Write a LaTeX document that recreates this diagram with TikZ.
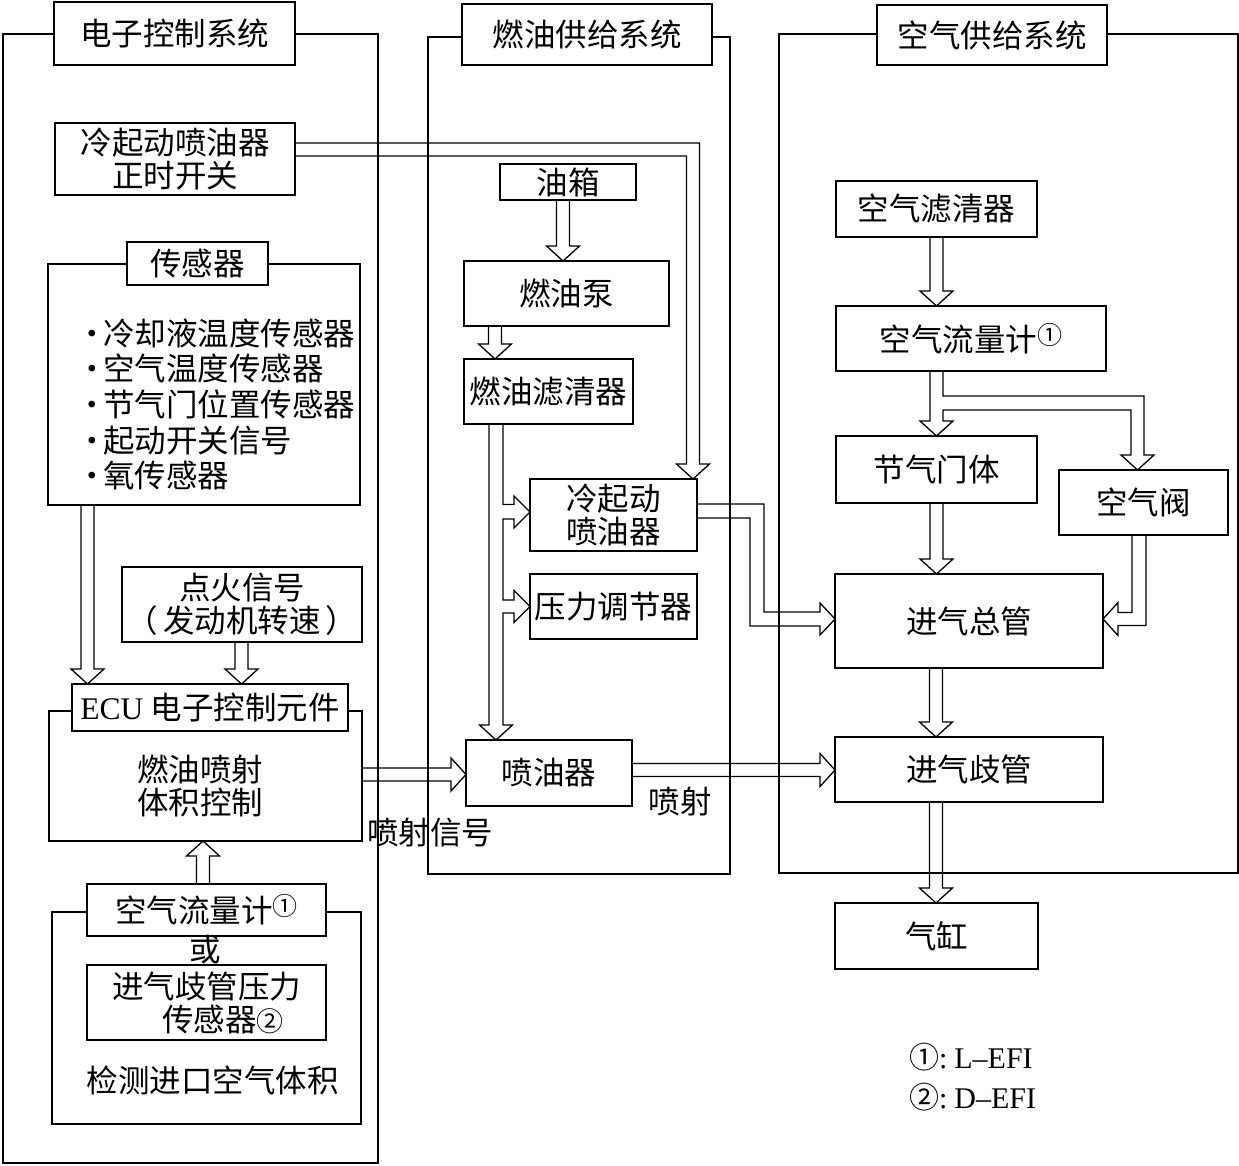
\documentclass[tikz,border=0pt]{standalone}
\usepackage{fontspec}
\setmainfont{Liberation Serif}
\newfontfamily\cjk{Noto Sans CJK SC}
\usetikzlibrary{calc}
\tikzset{
  box/.style={draw, line width=2.9pt, outer sep=0pt, inner sep=0pt, align=center, font={\cjk\fontsize{31.5}{33}\selectfont}},
  titlebox/.style={box, fill=white},
  grp/.style={draw, line width=1.3pt, outer sep=0pt, inner sep=0pt},
  txt/.style={inner sep=0pt, outer sep=0pt, align=center, font={\cjk\fontsize{31.5}{33}\selectfont}},
  harrow/.style={draw, line width=1.3pt, line join=miter},
  frameline/.style={draw, line width=1.3pt},
}
\newcommand\bul{\makebox[22pt][c]{·}}
\newcommand\supone{\raisebox{7pt}{\fontsize{25}{25}\selectfont ①}}
\newcommand\circtwo{{\fontsize{27}{27}\selectfont ②}}
% hollow double-line arrows
\newcommand\DArr[3]{\draw[harrow] (#3-6.5,0 |- #1) -- ($(#3,0 |- #2)+(-6.5,-15)$) -- ++(-10,0) -- (#3,0 |- #2) -- ++(16.5,-15) -- ++(-10,0) -- (#3+6.5,0 |- #1);}
\newcommand\UArr[3]{\draw[harrow] (#3-6.5,0 |- #1) -- ($(#3,0 |- #2)+(-6.5,15)$) -- ++(-10,0) -- (#3,0 |- #2) -- ++(16.5,15) -- ++(-10,0) -- (#3+6.5,0 |- #1);}
\newcommand\RArr[3]{\draw[harrow] (#1 |- 0,#3-6.5) -- ($(#2 |- 0,#3)+(-15,-6.5)$) -- ++(0,-10) -- (#2 |- 0,#3) -- ++(-15,16.5) -- ++(0,-10) -- (#1 |- 0,#3+6.5);}
\begin{document}
\begin{tikzpicture}[x=1pt,y=-1pt]
\useasboundingbox (0,0) rectangle (1239,1166);
% system frames
\draw[frameline] (3,34) rectangle (378,1163);
\draw[frameline] (428,37) rectangle (730,874);
\draw[frameline] (779,34) rectangle (1238,873);
% titles
\node[titlebox, minimum width=241pt, minimum height=63pt] (tel) at (174.5,33.5) {电子控制系统};
\node[titlebox, minimum width=250pt, minimum height=61pt] (tfu) at (587,34.5) {燃油供给系统};
\node[titlebox, minimum width=230pt, minimum height=60pt] (tair) at (992,35) {空气供给系统};
% electronic control system
\node[box, minimum width=240pt, minimum height=72pt] (timing) at (175,159) {冷起动喷油器\\正时开关};
\node[grp, minimum width=312pt, minimum height=241pt] (sens) at (204,384.5) {};
\node[titlebox, minimum width=141pt, minimum height=43pt] (senst) at (197.5,263.5) {传感器};
\node[txt, align=left, anchor=west, font={\cjk\fontsize{31.5}{35.7}\selectfont}] (senslist) at (81,404.5)
  {\bul 冷却液温度传感器\\\bul 空气温度传感器\\\bul 节气门位置传感器\\\bul 起动开关信号\\\bul 氧传感器};
\node[box, minimum width=240pt, minimum height=75pt] (ign) at (242,604.5) {点火信号\\（\hspace{5pt}发动机转速\hspace{5pt}）};
\node[grp, minimum width=313pt, minimum height=130pt] (ecu) at (205.5,776) {};
\node[titlebox, minimum width=276pt, minimum height=47pt] (ecut) at (210,707.5) {{\rmfamily ECU} 电子控制元件};
\node[txt] (ecutxt) at (200,786) {燃油喷射\\体积控制};
\node[txt] (sig) at (430,833) {喷射信号};
\node[grp, minimum width=309pt, minimum height=212pt] (det) at (206.5,1018) {};
\node[titlebox, minimum width=239pt, minimum height=52pt] (afml) at (206.5,910) {空气流量计\supone};
\node[txt] (or) at (205,950) {或};
\node[box, minimum width=239pt, minimum height=75pt, align=left] (map) at (206.5,1002.5) {进气歧管压力\\\hspace*{50pt}传感器\circtwo};
\node[txt] (dettxt) at (212.5,1080) {检测进口空气体积};
% fuel supply system
\node[box, minimum width=136pt, minimum height=36pt] (tank) at (568,182) {油箱};
\node[box, minimum width=205pt, minimum height=65pt] (pump) at (566.5,293.5) {燃油泵};
\node[box, minimum width=169pt, minimum height=65pt] (ffilt) at (548.5,391.5) {燃油滤清器};
\node[box, minimum width=167pt, minimum height=72pt] (csi) at (613.5,515) {冷起动\\喷油器};
\node[box, minimum width=167pt, minimum height=65pt] (preg) at (613.5,606.5) {压力调节器};
\node[box, minimum width=166pt, minimum height=66pt] (inj) at (549,773) {喷油器};
\node[txt] (spray) at (680,802) {喷射};
% air supply system
\node[box, minimum width=201pt, minimum height=56pt] (acl) at (936.5,209) {空气滤清器};
\node[box, minimum width=270pt, minimum height=65pt] (afmr) at (971,338.5) {空气流量计\supone};
\node[box, minimum width=201pt, minimum height=67pt] (thr) at (936.5,469.5) {节气门体};
\node[box, minimum width=169pt, minimum height=65pt] (av) at (1143.5,502.5) {空气阀};
\node[box, minimum width=268pt, minimum height=94pt] (intk) at (969,621) {进气总管};
\node[box, minimum width=268pt, minimum height=65pt] (mani) at (969,769.5) {进气歧管};
\node[box, minimum width=203pt, minimum height=66pt] (cyl) at (936.5,936) {气缸};
% legend
\node[txt, anchor=west, font={\rmfamily\fontsize{30}{30}\selectfont}] (leg1) at (909,1057) {{\cjk ①}:\hspace{7pt}L–EFI};
\node[txt, anchor=west, font={\rmfamily\fontsize{30}{30}\selectfont}] (leg2) at (909,1097) {{\cjk ②}:\hspace{7pt}D–EFI};
% simple arrows
\DArr{sens.south}{ecut.north}{87.5}
\DArr{ign.south}{ecut.north}{241.5}
\UArr{afml.north}{ecu.south}{203}
\RArr{ecu.east}{inj.west}{774.5}
\DArr{tank.south}{pump.north}{563}
\DArr{pump.south}{ffilt.north}{495}
\RArr{inj.east}{mani.west}{770}
\DArr{acl.south}{afmr.north}{936.5}
\DArr{thr.south}{intk.north}{936.5}
\DArr{intk.south}{mani.north}{936}
\DArr{mani.south}{cyl.north}{936}
% fuel filter -> cold start injector, pressure regulator, injector
\draw[harrow] (489,0 |- ffilt.south) -- (489,725) -- (479.5,725) -- (496,0 |- inj.north) -- (512.5,725) -- (503,725)
  -- (503,613) -- (514,613) -- (514,622.5) -- (preg.west |- 0,606.5) -- (514,590.5) -- (514,600) -- (503,600)
  -- (503,519) -- (514,519) -- (514,528) -- (csi.west |- 0,512) -- (514,496) -- (514,504.5) -- (503,504.5)
  -- (503,0 |- ffilt.south);
% timing switch -> cold start injector
\draw[harrow] (timing.east |- 0,143) -- (699.5,143) -- (699.5,464) -- (709.5,464) -- (693,0 |- csi.north)
  -- (676.5,464) -- (686.5,464) -- (686.5,156) -- (timing.east |- 0,156);
% cold start injector -> intake chamber
\draw[harrow] (csi.east |- 0,504) -- (764,504) -- (764,612) -- (820,612) -- (820,603) -- (intk.west |- 0,619)
  -- (820,635) -- (820,626) -- (750,626) -- (750,518) -- (csi.east |- 0,518);
% air flow meter -> throttle body and air valve
\draw[harrow] (930,0 |- afmr.south) -- (930,421) -- (920,421) -- (936.5,0 |- thr.north) -- (953,421) -- (943,421)
  -- (943,410) -- (1131,410) -- (1131,455) -- (1121,455) -- (1137.5,0 |- av.north) -- (1154,455) -- (1144,455)
  -- (1144,396) -- (943,396) -- (943,0 |- afmr.south);
% air valve -> intake chamber
\draw[harrow] (1146,0 |- av.south) -- (1146,625.5) -- (1118,625.5) -- (1118,635.5) -- (intk.east |- 0,619)
  -- (1118,602.5) -- (1118,612.5) -- (1132,612.5) -- (1132,0 |- av.south);
\end{tikzpicture}
\end{document}
